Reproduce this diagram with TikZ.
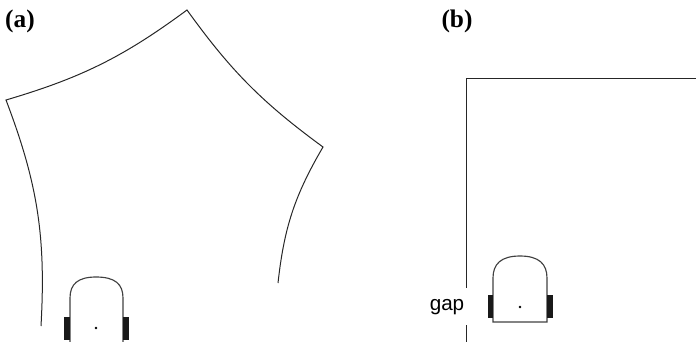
\documentclass[tikz,border=0pt]{standalone}
\usepackage{fontspec}
\setmainfont{Liberation Serif}
\newfontfamily\gapfont{Liberation Sans}
\usetikzlibrary{positioning}
\begin{document}
\begin{tikzpicture}[x=0.75pt,y=-0.75pt,font=\small]
\tikzstyle{wall}=[line width=0.75pt,black!85]
\tikzstyle{body}=[line width=0.85pt,black!75]
\tikzstyle{wheel}=[fill=black!90,draw=none]
\tikzstyle{tag}=[font=\fontsize{19}{22}\selectfont\bfseries,inner sep=0pt]
\useasboundingbox (0,0) rectangle (696,342);
\node[tag] (a) at (20,21) {(a)};
\node[tag] (b) at (457,21) {(b)};
% pentagon
\draw[wall] (41,326) to[bend right=12] (6,100) to[bend right=10] (187,10) to[bend right=9] (323,147) to[bend right=12] (278,283);
% robot a
\draw[body] (70,342) -- (70,298) .. controls (70,284) and (78,277) .. (96,277) .. controls (115,277) and (123,284) .. (123,298) -- (123,342);
\fill[wheel] (64,317) rectangle (70,340);
\fill[wheel] (123,317) rectangle (129,340);
\fill[black] (96,328) circle (1.4);
% corner
\draw[wall] (696,79) -- (466,79) -- (466,288);
\coordinate (g) at (466,325);
\draw[wall] (g) -- (466,342);
\node[font=\gapfont\fontsize{15.5}{18}\selectfont,inner sep=0pt] (gap) at (447,307) {gap};
% robot b
\draw[body] (493,278) .. controls (493,264) and (501,256) .. (520,256) .. controls (539,256) and (547,264) .. (547,278) -- (547,322) -- (493,322) -- cycle;
\fill[wheel] (488,295) rectangle (493,318);
\fill[wheel] (547,295) rectangle (553,318);
\fill[black] (520,307) circle (1.4);
\end{tikzpicture}
\end{document}
